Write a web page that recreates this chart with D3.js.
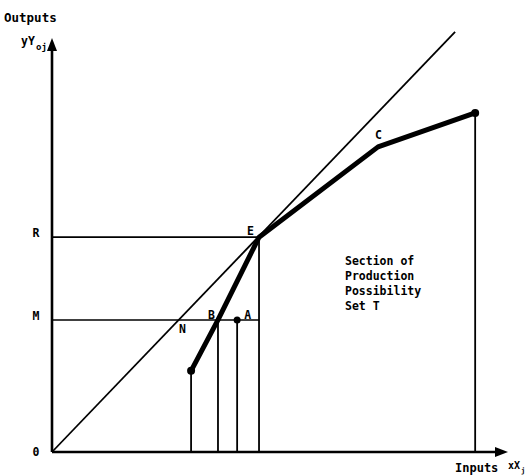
<!DOCTYPE html>
<html>
<head>
<meta charset="utf-8">
<script src="https://cdn.jsdelivr.net/npm/d3@7"></script>
<style>
  body { margin: 0; background: #fff; }
  text { font-family: "DejaVu Sans Mono", monospace; font-weight: bold; fill: #000; }
</style>
</head>
<body>
<div id="chart"></div>
<script>
// production frontier (thick line)
var frontierX = [30.5, 36.4, 45.4, 71.5, 92.8];
var frontierY = [19.6, 31.9, 51.9, 73.7, 81.9];

// extra input point A on level M
var pointA = { x: 40.6, y: 31.9, label: "A" };

// vertical drop lines
var dropX = [30.5, 36.4, 40.6, 45.4, 92.8];
var dropY = [19.6, 31.9, 31.9, 51.9, 81.9];

// y axis labels
var yTickValues = [0, 31.9, 51.9];
var yTickLabels = ["0", "M", "R"];

// ray through the origin
var rayX = [0, 88.4];
var rayY = [0, 101.5];

var svgWidth = 528;
var svgHeight = 475;

var svg = d3.select("#chart")
  .append("svg")
  .attr("width", svgWidth)
  .attr("height", svgHeight);

var xScale = d3.scaleLinear().domain([0, 100]).range([52, 508]);
var yScale = d3.scaleLinear().domain([0, 100]).range([452, 38]);

// horizontal lines R and M
svg.selectAll(".hline")
  .data(yTickValues.slice(1))
  .enter()
  .append("line")
  .attr("x1", xScale(0))
  .attr("x2", xScale(45.4))
  .attr("y1", d => yScale(d))
  .attr("y2", d => yScale(d))
  .attr("stroke", "#000")
  .attr("stroke-width", 1.6);

// drop lines
svg.selectAll(".drop")
  .data(dropX)
  .enter()
  .append("line")
  .attr("x1", d => xScale(d))
  .attr("x2", d => xScale(d))
  .attr("y1", (d, i) => yScale(dropY[i]))
  .attr("y2", yScale(0))
  .attr("stroke", "#000")
  .attr("stroke-width", 1.8);

// ray
svg.append("line")
  .attr("x1", xScale(rayX[0]))
  .attr("y1", yScale(rayY[0]))
  .attr("x2", xScale(rayX[1]))
  .attr("y2", yScale(rayY[1]))
  .attr("stroke", "#000")
  .attr("stroke-width", 1.8);

// frontier
var line = d3.line()
  .x((d, i) => xScale(frontierX[i]))
  .y((d, i) => yScale(frontierY[i]));

svg.append("path")
  .datum(frontierX)
  .attr("d", line)
  .attr("fill", "none")
  .attr("stroke", "#000")
  .attr("stroke-width", 5)
  .attr("stroke-linejoin", "round");

svg.selectAll(".dot")
  .data([0, 4])
  .enter()
  .append("circle")
  .attr("cx", i => xScale(frontierX[i]))
  .attr("cy", i => yScale(frontierY[i]))
  .attr("r", 4)
  .attr("fill", "#000");

svg.append("circle")
  .attr("cx", xScale(pointA.x))
  .attr("cy", yScale(pointA.y))
  .attr("r", 3.5)
  .attr("fill", "#000");

// axes
svg.append("line")
  .attr("x1", xScale(0)).attr("y1", yScale(0))
  .attr("x2", xScale(0)).attr("y2", yScale(100) + 8)
  .attr("stroke", "#000").attr("stroke-width", 2.6);
svg.append("line")
  .attr("x1", xScale(0)).attr("y1", yScale(0))
  .attr("x2", xScale(100) - 8).attr("y2", yScale(0))
  .attr("stroke", "#000").attr("stroke-width", 2.6);

var ax = xScale(0), ay = yScale(100);
svg.append("path")
  .attr("d", `M${ax},${ay} L${ax - 5},${ay + 13} L${ax + 5},${ay + 13} Z`)
  .attr("fill", "#000");
var bx = xScale(100), by = yScale(0);
svg.append("path")
  .attr("d", `M${bx},${by} L${bx - 13},${by - 5} L${bx - 13},${by + 5} Z`)
  .attr("fill", "#000");

// y labels
svg.selectAll(".ylab")
  .data(yTickValues)
  .enter()
  .append("text")
  .attr("x", 36)
  .attr("y", (d, i) => yScale(d) + (i === 0 ? 4 : 0))
  .attr("text-anchor", "middle")
  .attr("font-size", 11.5)
  .text((d, i) => yTickLabels[i]);

// point labels
svg.append("text").attr("x", xScale(36.4) - 10).attr("y", yScale(31.9) - 1).attr("font-size", 11.5).text("B");
svg.append("text").attr("x", xScale(45.4) - 12).attr("y", yScale(51.9) - 2).attr("font-size", 11.5).text("E");
svg.append("text").attr("x", xScale(71.5) - 3).attr("y", yScale(73.7) - 8).attr("font-size", 11.5).text("C");
svg.append("text").attr("x", xScale(pointA.x) + 7).attr("y", yScale(pointA.y) - 1).attr("font-size", 11.5).text(pointA.label);
svg.append("text").attr("x", 179).attr("y", yScale(31.9) + 13).attr("font-size", 11.5).text("N");

// axis titles
svg.append("text").attr("x", 4).attr("y", 22).attr("font-size", 12.5).text("Outputs");
svg.append("text").attr("x", 21).attr("y", 45).attr("font-size", 11.5).text("yY");
svg.append("text").attr("x", 36).attr("y", 50).attr("font-size", 9).text("oj");
svg.append("text").attr("x", 455).attr("y", 472).attr("font-size", 12).text("Inputs");
svg.append("text").attr("x", 508).attr("y", 469).attr("font-size", 10).text("xX");
svg.append("text").attr("x", 521).attr("y", 473).attr("font-size", 7).text("j");

// region text
var regionLines = ["Section of", "Production", "Possibility", "Set T"];
svg.selectAll(".region")
  .data(regionLines)
  .enter()
  .append("text")
  .attr("x", 345)
  .attr("y", (d, i) => 265 + i * 15)
  .attr("font-size", 11.5)
  .text(d => d);
</script>
</body>
</html>
